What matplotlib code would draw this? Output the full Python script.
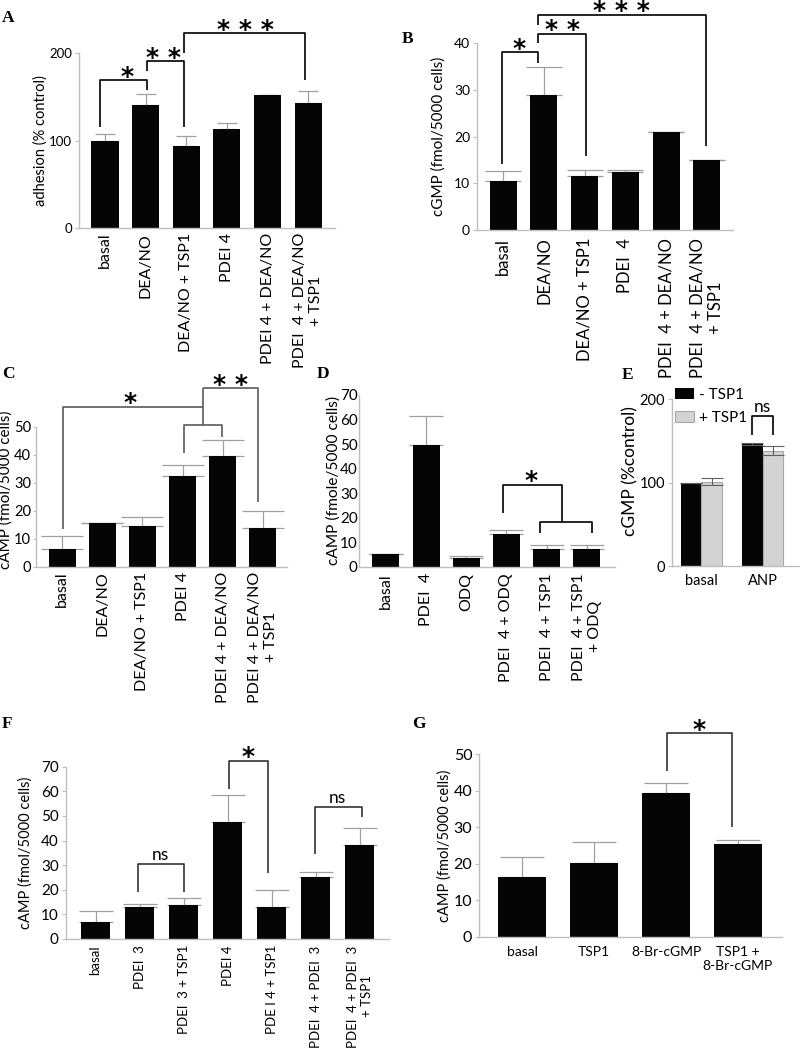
import matplotlib
matplotlib.use("Agg")
import matplotlib.pyplot as plt
import numpy as np

plt.rcParams['font.family'] = ['Lato', 'DejaVu Sans']

W, H = 800, 1049
fig = plt.figure(figsize=(W / 100, H / 100), dpi=100)

AXC = '#bfbfbf'
ERRC = '#a0a0a0'

# ---------------- data ----------------
a_labels = ["basal", "DEA/NO", "DEA/NO + TSP1", "PDEI 4", "PDEI 4 + DEA/NO", "PDEI  4 + DEA/NO\n+ TSP1"]
a_vals = [100, 140.6, 93.7, 113.5, 151.6, 143.2]
a_err = [7.4, 12.2, 11.4, 6.5, 0.8, 13.4]

b_labels = ["basal", "DEA/NO", "DEA/NO + TSP1", "PDEI  4", "PDEI  4 + DEA/NO", "PDEI  4 + DEA/NO\n+ TSP1"]
b_vals = [10.6, 28.9, 11.6, 12.5, 20.9, 14.9]
b_err = [2.1, 6.0, 1.3, 0.4, 0.1, 0.1]

c_labels = ["basal", "DEA/NO", "DEA/NO + TSP1", "PDEI 4", "PDEI 4 + DEA/NO", "PDEI 4 + DEA/NO\n+ TSP1"]
c_vals = [6.2, 15.5, 14.4, 32.5, 39.5, 13.9]
c_err = [4.9, 0.2, 3.2, 3.9, 5.6, 5.9]

d_labels = ["basal", "PDEI  4", "ODQ", "PDEI  4 + ODQ", "PDEI  4 + TSP1", "PDEI  4 + TSP1\n+ ODQ"]
d_vals = [5.0, 49.6, 3.4, 13.5, 7.2, 7.2]
d_err = [0.0, 11.7, 1.1, 1.3, 1.6, 1.6]

e_groups = ["basal", "ANP"]
e_series = ["- TSP1", "+ TSP1"]
e_minus = [99.5, 146.0]
e_minus_err = [0.5, 1.0]
e_plus = [101.2, 138.4]
e_plus_err = [3.8, 5.6]

f_labels = ["basal", "PDEI  3", "PDEI  3 + TSP1", "PDEI 4", "PDE I 4 + TSP1", "PDEI  4 + PDEI  3", "PDEI  4 + PDEI  3\n+ TSP1"]
f_vals = [6.8, 13.1, 13.9, 47.5, 12.9, 25.0, 38.0]
f_err = [4.4, 1.1, 2.9, 10.9, 6.9, 2.1, 7.1]

g_labels = ["basal", "TSP1", "8-Br-cGMP", "TSP1 +\n8-Br-cGMP"]
g_vals = [16.4, 20.3, 39.4, 25.3]
g_err = [5.3, 5.5, 2.8, 1.3]


# ---------------- helpers ----------------
def axpx(l, r, b, t):
    return fig.add_axes([l / W, 1 - b / H, (r - l) / W, (b - t) / H])


def style(ax, ylim, yticks, tsize, pad=2):
    ax.set_ylim(*ylim)
    ax.set_yticks(yticks)
    for s in ['top', 'right']:
        ax.spines[s].set_visible(False)
    for s in ['left', 'bottom']:
        ax.spines[s].set_color(AXC)
        ax.spines[s].set_linewidth(1.0)
    ax.tick_params(axis='y', colors=AXC, labelcolor='black', labelsize=tsize, length=3, width=0.8, pad=pad)
    ax.tick_params(axis='x', length=0, labelsize=tsize)


def bars(ax, vals, err, width, capsize, both=False):
    x = np.arange(len(vals))
    ax.bar(x, vals, width=width, color='#050505', zorder=2)
    e = np.array(err)
    yerr = [e, e] if both else [np.zeros_like(e), e]
    ax.errorbar(x, vals, yerr=yerr, fmt='none', ecolor=ERRC, elinewidth=0.9,
                capsize=capsize, capthick=0.9, zorder=1)
    return x


def seg(ax, xs, ys, color='black', lw=1.2):
    ax.plot(xs, ys, color=color, lw=lw, clip_on=False, solid_capstyle='butt', zorder=3)


def bracket(ax, x1, x2, top, b1, b2, color='black', lw=1.2):
    xs, ys = [], []
    if b1 is not None:
        xs += [x1]; ys += [b1]
    xs += [x1, x2]; ys += [top, top]
    if b2 is not None:
        xs += [x2]; ys += [b2]
    seg(ax, xs, ys, color, lw)


def mark(ax, x, y, text, size=18, dy=-2.5, star=True):
    ax.annotate(text, xy=(x, y), xytext=(0, dy), textcoords='offset points',
                ha='center', va='baseline', fontsize=size, annotation_clip=False,
                family='DejaVu Sans' if star else None,
                weight='bold' if star else 'normal', zorder=4)


def letter(x, y, t):
    fig.text(x / W, 1 - y / H, t, family='Liberation Serif', weight='bold', fontsize=12.5,
             ha='left', va='baseline')


def xlabels(ax, labels, size, rot=90, pad=4):
    ax.set_xticks(np.arange(len(labels)))
    ax.set_xticklabels(labels, rotation=rot, fontsize=size, multialignment='center')
    ax.tick_params(axis='x', pad=pad)


# ---------------- Panel A ----------------
axA = axpx(79, 335, 228, 53)
x = bars(axA, a_vals, a_err, 0.665, 7)
style(axA, (0, 200), [0, 100, 200], 9.5)
axA.set_xlim(-0.64, 5.66)
xlabels(axA, a_labels, 11.5, pad=3.5)
axA.set_ylabel("adhesion (% control)", fontsize=10.5)
axA.yaxis.set_label_coords(-0.121, 0.5)
bracket(axA, -0.12, 1.04, 169, 115.8, 157.7)
bracket(axA, 1.04, 1.95, 190.3, 178.9, 115.8)
bracket(axA, 1.95, 4.93, 222.5, 199.6, 169.1)
mark(axA, 0.55, 169, "*")
mark(axA, 1.45, 190.3, "* *")
mark(axA, 3.45, 222.5, "* * *")
letter(2, 22, "A")

# ---------------- Panel B ----------------
axB = axpx(477, 733, 230, 43.3)
bars(axB, b_vals, b_err, 0.66, 13)
style(axB, (0, 40), [0, 10, 20, 30, 40], 10)
axB.set_xlim(-0.64, 5.64)
xlabels(axB, b_labels, 12, pad=5.5)
axB.set_ylabel("cGMP (fmol/5000 cells)", fontsize=11)
axB.yaxis.set_label_coords(-0.121, 0.5)
bracket(axB, -0.03, 0.86, 38.1, 14.1, 35.7)
bracket(axB, 0.86, 2.03, 42.0, 40.1, 15.9)
bracket(axB, 0.86, 4.98, 46.1, 43.9, 18.0)
mark(axB, 0.4, 38.1, "*")
mark(axB, 1.45, 42.0, "* *")
mark(axB, 2.9, 46.1, "* * *")
letter(402, 43, "B")

# ---------------- Panel C ----------------
CB = '#5a5a5a'
axC = axpx(36, 287, 566.7, 426.7)
bars(axC, c_vals, c_err, 0.67, 15)
style(axC, (0, 50), [0, 10, 20, 30, 40, 50], 10.5, pad=1.5)
axC.tick_params(axis='y', length=2)
axC.set_xlim(-0.65, 5.6)
xlabels(axC, c_labels, 11.5, pad=3.5)
axC.set_ylabel("cAMP (fmol/5000 cells)", fontsize=11)
axC.yaxis.set_label_coords(-0.092, 0.55)
bracket(axC, 0.03, 3.51, 57.1, 13.3, None, CB)
bracket(axC, 3.04, 3.97, 50.6, 40.5, 46.4, CB)
seg(axC, [3.51, 3.51], [63.7, 50.6], CB)
bracket(axC, 3.51, 4.88, 63.7, None, 23.2, CB)
mark(axC, 1.7, 57.1, "*")
mark(axC, 4.2, 63.7, "* *")
letter(2, 378, "C")

# ---------------- Panel D ----------------
axD = axpx(359, 615, 566.7, 395)
bars(axD, d_vals, d_err, 0.67, 12)
style(axD, (0, 70), [0, 10, 20, 30, 40, 50, 60, 70], 11, pad=1)
axD.tick_params(axis='y', length=0)
axD.set_xlim(-0.67, 5.7)
xlabels(axD, d_labels, 11.5, pad=4.5)
axD.set_ylabel("cAMP (fmole/5000 cells)", fontsize=11.2)
axD.yaxis.set_label_coords(-0.07, 0.5)
bracket(axD, 2.91, 4.38, 33.3, 22.0, 18.1)
bracket(axD, 3.83, 5.12, 18.1, 13.9, 13.9)
mark(axD, 3.6, 33.3, "*")
letter(317, 378, "D")

# ---------------- Panel E ----------------
axE = axpx(672, 800, 566, 399.3)
xg = np.arange(len(e_groups))
bw = 0.335
axE.bar(xg - bw / 2, e_minus, width=bw, color='#050505', zorder=2, label=e_series[0])
axE.bar(xg + bw / 2, e_plus, width=bw, color='#d3d3d3', edgecolor='#a8a8a8', lw=0.8,
        zorder=2, label=e_series[1])
axE.errorbar(xg - bw / 2, e_minus, yerr=e_minus_err, fmt='none', ecolor='#606060',
             elinewidth=0.8, capsize=8, capthick=0.8, zorder=3)
axE.errorbar(xg + bw / 2, e_plus, yerr=e_plus_err, fmt='none', ecolor='#606060',
             elinewidth=0.8, capsize=8, capthick=0.8, zorder=3)
style(axE, (0, 200), [0, 100, 200], 10.5)
axE.set_xlim(-0.48, 1.61)
axE.set_xticks(xg)
axE.set_xticklabels(e_groups, fontsize=10.5)
axE.tick_params(axis='x', pad=6)
axE.set_ylabel("cGMP (%control)", fontsize=12.5)
axE.yaxis.set_label_coords(-0.266, 0.57)
bracket(axE, 1 - bw / 2, 1 + bw / 2, 180, 157, 157)
mark(axE, 1.0, 180, "ns", 12.5, 3, star=False)
leg = axE.legend(loc='upper left', bbox_to_anchor=(0.02, 1.07), frameon=False, fontsize=11,
                 handlelength=1.25, handleheight=0.75, handletextpad=0.35, labelspacing=0.6,
                 borderaxespad=0, borderpad=0)
letter(622, 379, "E")

# ---------------- Panel F ----------------
FB = '#333333'
axF = axpx(65.7, 389, 939, 766.7)
bars(axF, f_vals, f_err, 0.66, 12)
style(axF, (0, 70), [0, 10, 20, 30, 40, 50, 60, 70], 11)
axF.set_xlim(-0.68, 6.67)
xlabels(axF, f_labels, 9.5, pad=4.5)
axF.set_ylabel("cAMP (fmol/5000 cells)", fontsize=10.5)
axF.yaxis.set_label_coords(-0.101, 0.5)
bracket(axF, 0.96, 2.01, 30.6, 19.1, 19.0, FB)
bracket(axF, 3.04, 3.93, 72.4, 60.9, 26.7, FB)
bracket(axF, 4.99, 6.05, 53.6, 34.4, 49.7, FB)
mark(axF, 1.48, 30.6, "ns", 12.5, 3, star=False)
mark(axF, 3.47, 72.4, "*")
mark(axF, 5.5, 53.6, "ns", 12.5, 3, star=False)
letter(2, 728, "F")

# ---------------- Panel G ----------------
axG = axpx(479.3, 781.7, 936.7, 754)
bars(axG, g_vals, g_err, 0.67, 16)
style(axG, (0, 50), [0, 10, 20, 30, 40, 50], 11.5)
axG.set_xlim(-0.6, 3.61)
axG.set_xticks(np.arange(len(g_labels)))
axG.set_xticklabels(g_labels, fontsize=10, multialignment='center')
axG.tick_params(axis='x', pad=7)
axG.set_ylabel("cAMP (fmol/5000 cells)", fontsize=10.5)
axG.yaxis.set_label_coords(-0.09, 0.5)
bracket(axG, 2.01, 2.92, 55.7, 45.4, 30.1, FB)
mark(axG, 2.46, 55.7, "*")
letter(412, 728, "G")

fig.savefig("out.png", dpi=100)
